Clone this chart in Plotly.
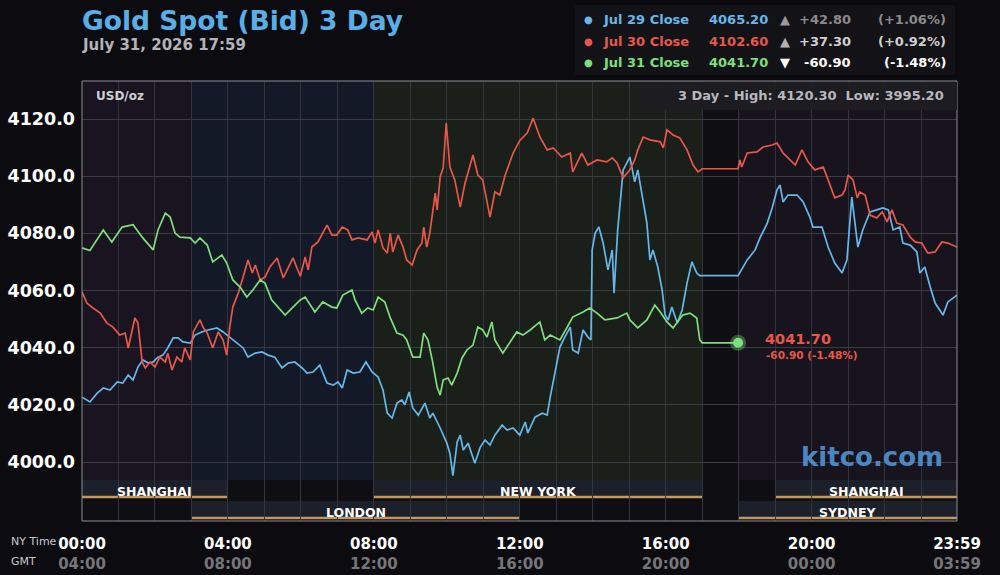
import plotly.graph_objects as go

# ---------------- data ----------------
blue_minute = [0, 13, 25, 35, 46, 58, 67, 76, 84, 92, 100, 109, 117, 125, 133, 141, 150, 158, 166, 178,
               186, 197, 207, 222, 232, 243, 255, 265, 273, 285, 296, 306, 317, 329, 339, 350, 362, 370, 380, 391,
               403, 413, 421, 428, 436, 446, 457, 467, 477, 487, 495, 502, 510, 518, 526, 531, 538, 544, 553, 564,
               572, 577, 589, 600, 605, 610, 617, 622, 627, 635, 646, 655, 663, 671, 679, 691, 699, 709, 720, 729,
               733, 745, 757, 765, 770, 778, 786, 794, 803, 807, 816, 824, 832, 837, 839, 844, 850, 857, 865, 872,
               875, 881, 890, 901, 909, 914, 923, 929, 934, 939, 947, 954, 959, 964, 970, 979, 987, 995, 1003, 1011,
               1016, 1079, 1094, 1107, 1115, 1127, 1135, 1143, 1148, 1153, 1161, 1176, 1186, 1197, 1202, 1217, 1227, 1238, 1250, 1258,
               1266, 1271, 1276, 1284, 1296, 1307, 1317, 1326, 1334, 1345, 1350, 1362, 1373, 1378, 1386, 1395, 1403, 1416, 1424, 1439]
blue_value = [4022.7, 4021.0, 4024.1, 4025.9, 4025.2, 4028.0, 4027.6, 4030.4, 4028.7, 4033.2, 4035.7, 4034.6, 4035.0, 4036.7, 4037.4, 4039.9, 4043.4, 4043.4, 4042.0, 4041.6,
              4044.4, 4045.5, 4046.2, 4046.9, 4045.5, 4043.7, 4041.6, 4039.9, 4036.7, 4038.1, 4038.5, 4037.4, 4036.7, 4032.9, 4034.6, 4035.0, 4032.9, 4031.1, 4031.5, 4033.9,
              4027.6, 4026.9, 4028.0, 4025.9, 4032.2, 4031.1, 4031.5, 4035.0, 4031.5, 4029.7, 4025.2, 4017.1, 4015.4, 4020.6, 4021.7, 4020.0, 4024.5, 4018.9, 4016.4, 4020.6,
              4015.4, 4017.1, 4011.9, 4006.6, 4003.1, 3995.2, 4007.0, 4009.4, 4004.2, 4006.6, 3999.6, 4005.2, 4007.7, 4005.9, 4009.4, 4012.9, 4011.2, 4011.9, 4009.4, 4014.0,
              4010.1, 4015.7, 4017.1, 4016.4, 4022.7, 4031.1, 4040.2, 4043.7, 4047.2, 4039.2, 4038.1, 4046.2, 4043.7, 4042.7, 4074.2, 4080.1, 4082.2, 4076.6, 4067.2, 4074.2,
              4059.1, 4081.2, 4102.2, 4106.7, 4098.0, 4102.2, 4090.6, 4083.6, 4070.7, 4074.2, 4068.2, 4060.2, 4051.4, 4049.7, 4054.2, 4048.6, 4053.2, 4062.6, 4070.0, 4066.1,
              4065.2, 4065.2, 4070.7, 4074.2, 4078.4, 4083.6, 4088.9, 4095.2, 4096.9, 4091.0, 4093.4, 4093.4, 4091.0, 4085.7, 4082.2, 4082.2, 4075.2, 4069.6, 4066.1, 4070.7,
              4092.7, 4084.7, 4075.2, 4081.2, 4087.5, 4088.2, 4088.9, 4088.2, 4081.2, 4082.2, 4076.6, 4075.9, 4073.5, 4066.1, 4068.2, 4061.2, 4055.6, 4051.4, 4056.0, 4058.4]

red_minute = [0, 8, 18, 30, 41, 51, 62, 71, 76, 82, 87, 92, 99, 104, 112, 120, 128, 137, 141, 148,
              156, 164, 169, 178, 183, 194, 199, 206, 215, 224, 232, 238, 243, 248, 257, 265, 273, 280, 285, 293,
              301, 309, 321, 331, 339, 347, 359, 367, 372, 378, 388, 396, 403, 411, 419, 428, 437, 444, 454, 469,
              477, 482, 487, 495, 502, 507, 511, 520, 528, 534, 543, 551, 559, 562, 567, 572, 577, 581, 584, 589,
              594, 599, 605, 613, 622, 630, 643, 651, 659, 671, 679, 687, 696, 709, 720, 732, 742, 753, 765, 775,
              789, 803, 807, 822, 832, 847, 863, 872, 880, 890, 901, 909, 914, 923, 934, 951, 956, 962, 972, 983,
              995, 1005, 1013, 1020, 1079, 1082, 1085, 1094, 1110, 1120, 1135, 1143, 1153, 1164, 1173, 1184, 1194, 1205, 1219, 1227,
              1238, 1250, 1255, 1260, 1268, 1275, 1279, 1288, 1296, 1307, 1316, 1324, 1332, 1340, 1350, 1362, 1370, 1381, 1391, 1403,
              1414, 1424, 1439]
red_value = [4059.5, 4055.6, 4053.9, 4052.1, 4048.6, 4047.2, 4044.4, 4045.1, 4039.9, 4045.1, 4050.4, 4048.6, 4035.0, 4032.9, 4035.0, 4033.2, 4036.7, 4035.0, 4038.1, 4032.2,
             4036.7, 4035.0, 4039.9, 4035.7, 4045.5, 4049.7, 4047.2, 4045.1, 4039.9, 4045.5, 4042.7, 4037.4, 4047.2, 4054.2, 4059.1, 4064.7, 4070.7, 4066.1, 4068.9, 4063.7,
             4064.7, 4068.2, 4071.4, 4064.4, 4067.9, 4071.4, 4065.0, 4071.7, 4067.2, 4075.2, 4077.0, 4080.1, 4082.9, 4079.4, 4079.4, 4082.2, 4081.2, 4077.7, 4078.4, 4077.7,
             4080.5, 4076.6, 4081.2, 4074.9, 4073.1, 4080.1, 4073.5, 4079.4, 4075.2, 4070.7, 4068.9, 4074.2, 4076.6, 4082.2, 4075.2, 4080.1, 4088.2, 4094.1, 4088.2, 4099.7,
             4102.9, 4118.6, 4103.2, 4098.7, 4089.2, 4097.6, 4107.4, 4100.4, 4098.7, 4085.7, 4094.5, 4093.4, 4100.4, 4108.1, 4112.5, 4115.1, 4120.3, 4113.7, 4109.2, 4109.9,
             4106.7, 4108.1, 4101.5, 4108.1, 4103.9, 4105.7, 4105.0, 4106.4, 4104.6, 4099.4, 4102.2, 4105.7, 4109.2, 4113.7, 4112.7, 4112.0, 4109.9, 4116.2, 4114.4, 4113.4,
             4109.2, 4103.9, 4101.5, 4102.6, 4102.6, 4105.7, 4103.2, 4108.1, 4108.5, 4110.2, 4110.9, 4111.6, 4108.1, 4105.7, 4103.9, 4109.2, 4105.0, 4102.2, 4103.2, 4098.7,
             4092.4, 4093.4, 4095.2, 4100.4, 4098.7, 4092.4, 4094.5, 4093.4, 4086.4, 4085.4, 4087.5, 4084.0, 4088.2, 4083.6, 4082.9, 4078.7, 4077.0, 4076.6, 4073.1, 4073.5,
             4077.0, 4076.6, 4075.2]

green_minute = [0, 13, 35, 49, 66, 84, 100, 117, 125, 137, 145, 153, 161, 178, 186, 194, 206, 215, 230, 238,
                248, 260, 271, 281, 293, 301, 312, 326, 334, 347, 359, 367, 383, 396, 411, 419, 429, 444, 449, 460,
                470, 479, 487, 498, 507, 518, 528, 534, 544, 556, 562, 569, 576, 584, 589, 594, 602, 608, 617, 625,
                633, 643, 651, 659, 666, 674, 679, 692, 704, 715, 725, 737, 753, 761, 770, 786, 798, 807, 824, 835,
                847, 860, 880, 896, 901, 914, 929, 942, 951, 962, 972, 988, 1000, 1011, 1016, 1020, 1079]
green_value = [4074.9, 4074.0, 4081.2, 4077.0, 4082.2, 4083.0, 4078.4, 4074.2, 4081.2, 4087.1, 4085.7, 4080.1, 4078.7, 4078.4, 4076.6, 4078.4, 4075.9, 4070.0, 4072.4, 4069.6,
               4063.7, 4061.2, 4057.7, 4060.2, 4063.7, 4062.6, 4056.7, 4053.2, 4051.4, 4054.2, 4056.7, 4057.7, 4052.5, 4056.0, 4054.2, 4053.9, 4058.4, 4060.2, 4056.7, 4052.1,
               4053.9, 4053.2, 4057.7, 4056.0, 4050.4, 4045.1, 4044.4, 4042.7, 4036.7, 4036.7, 4045.1, 4042.7, 4035.7, 4026.2, 4023.4, 4028.7, 4029.4, 4026.9, 4031.1, 4036.4,
               4039.2, 4040.9, 4047.2, 4046.2, 4043.7, 4049.0, 4042.7, 4038.1, 4042.0, 4045.5, 4044.4, 4046.2, 4049.0, 4042.7, 4044.4, 4042.7, 4047.2, 4050.7, 4052.5, 4053.9,
               4052.1, 4049.7, 4050.4, 4052.1, 4049.7, 4046.9, 4049.7, 4054.9, 4052.5, 4049.0, 4046.9, 4051.4, 4052.1, 4050.4, 4042.7, 4041.7, 4041.7]

series_names = ["Jul 29 Close", "Jul 30 Close", "Jul 31 Close"]
series_close = ["4065.20", "4102.60", "4041.70"]
series_change = ["+42.80", "+37.30", "-60.90"]
series_pct = ["(+1.06%)", "(+0.92%)", "(-1.48%)"]
series_arrow = ["▲", "▲", "▼"]

y_ticks = [4000, 4020, 4040, 4060, 4080, 4100, 4120]
x_tick_minutes = [0, 240, 480, 720, 960, 1200, 1439]
ny_labels = ["00:00", "04:00", "08:00", "12:00", "16:00", "20:00", "23:59"]
gmt_labels = ["04:00", "08:00", "12:00", "16:00", "20:00", "00:00", "03:59"]

# background tints by session (start hour, end hour)
tint_start = [0, 3, 8, 17, 18]
tint_end = [3, 8, 17, 18, 24]
tint_color = ["#19141f", "#131926", "#1a1f19", "#0f0f13", "#18141e"]

session_names = ["SHANGHAI", "LONDON", "NEW YORK", "SHANGHAI", "SYDNEY"]
session_start = [0, 3, 8, 19, 18]
session_end = [4, 12, 17, 24, 24]
session_row = [0, 1, 0, 0, 1]

high_low_text = "3 Day - High: 4120.30  Low: 3995.20"

# ---------------- styling ----------------
FONT = "DejaVu Sans"
BLUE = "#66b8ea"
RED = "#e8584a"
GREEN = "#7ee07c"
colors = [BLUE, RED, GREEN]
YMIN, YMAX = 3979.36, 4133.3
L, R, T, B = 82, 957, 81, 521


def px_x(px):
    return (px - L) / (R - L)


def px_y(py):
    return (B - py) / (B - T)


fig = go.Figure()

for xs, ys, c in [(blue_minute, blue_value, BLUE), (red_minute, red_value, RED), (green_minute, green_value, GREEN)]:
    fig.add_trace(go.Scatter(x=xs, y=ys, mode="lines", line=dict(color=c, width=1.7),
                             hoverinfo="skip", showlegend=False))

# end marker with glow
fig.add_trace(go.Scatter(x=[green_minute[-1]], y=[green_value[-1]], mode="markers",
                         marker=dict(size=16, color="rgba(126,224,124,0.35)"), hoverinfo="skip", showlegend=False))
fig.add_trace(go.Scatter(x=[green_minute[-1]], y=[green_value[-1]], mode="markers",
                         marker=dict(size=10, color=GREEN), hoverinfo="skip", showlegend=False))

shapes = []
# tints
for s, e, c in zip(tint_start, tint_end, tint_color):
    shapes.append(dict(type="rect", xref="x", yref="y", x0=s * 60, x1=min(e * 60, 1439), y0=3993.7, y1=YMAX,
                       fillcolor=c, line=dict(width=0), layer="below"))
# session bands (top, bottom, line) in value units
row_y = [(3993.7, 3988.1, 3987.75), (3986.35, 3980.75, 3980.4)]
for name, s, e, r in zip(session_names, session_start, session_end, session_row):
    y_top, y_bot, y_line = row_y[r]
    x0, x1 = s * 60, min(e * 60, 1439)
    shapes.append(dict(type="rect", xref="x", yref="y", x0=x0, x1=x1, y0=y_bot, y1=y_top,
                       fillcolor="#1b202b", line=dict(width=0), layer="below"))
    shapes.append(dict(type="line", xref="x", yref="y", x0=x0, x1=x1, y0=y_line, y1=y_line,
                       line=dict(color="#c4975c", width=2.5), layer="below"))
# plot border
shapes.append(dict(type="rect", xref="paper", yref="paper", x0=0, x1=1, y0=0, y1=1,
                   line=dict(color="#8c8c96", width=1), fillcolor="rgba(0,0,0,0)", layer="above"))
# legend box
shapes.append(dict(type="rect", xref="paper", yref="paper", x0=px_x(575), x1=px_x(955), y0=px_y(75), y1=px_y(5),
                   fillcolor="#131317", line=dict(width=0), layer="below"))
# high/low box
shapes.append(dict(type="rect", xref="paper", yref="paper", x0=px_x(641), x1=1, y0=px_y(110), y1=px_y(82),
                   fillcolor="#1c1c21", line=dict(width=0), layer="above"))
# end label box
shapes.append(dict(type="rect", xref="paper", yref="paper", x0=px_x(752), x1=px_x(862), y0=px_y(362), y1=px_y(330),
                   fillcolor="rgba(26,26,31,0.9)", line=dict(width=0), layer="below"))

ann = []
ann.append(dict(text="<b>Gold Spot (Bid) 3 Day</b>", x=px_x(80), y=px_y(21), xanchor="left", yanchor="middle",
                font=dict(size=26.5, color="#5aaee6", family=FONT)))
ann.append(dict(text="<b>July 31, 2026 17:59</b>", x=px_x(80), y=px_y(45), xanchor="left", yanchor="middle",
                font=dict(size=15, color="#b4b4b8", family=FONT)))
row_ys = [19, 41, 63]
chg_colors = ["#8a8a8e", "#cfcfd2", "#ffffff"]
arr_colors = ["#9a9a9e", "#b0b0b4", "#ffffff"]
for i in range(3):
    yy = px_y(row_ys[i])
    ann.append(dict(text="●", x=px_x(588), y=yy, xanchor="center", yanchor="middle",
                    font=dict(size=10, color=colors[i], family=FONT)))
    ann.append(dict(text=f"<b>{series_names[i]}</b>", x=px_x(601), y=yy, xanchor="left", yanchor="middle",
                    font=dict(size=13, color=colors[i], family=FONT)))
    ann.append(dict(text=f"<b>{series_close[i]}</b>", x=px_x(707), y=yy, xanchor="left", yanchor="middle",
                    font=dict(size=13, color=colors[i], family=FONT)))
    ann.append(dict(text=series_arrow[i], x=px_x(785), y=yy, xanchor="center", yanchor="middle",
                    font=dict(size=13, color=arr_colors[i], family=FONT)))
    ann.append(dict(text=f"<b>{series_change[i]}</b>", x=px_x(853), y=yy, xanchor="right", yanchor="middle",
                    font=dict(size=13, color=chg_colors[i], family=FONT)))
    ann.append(dict(text=f"<b>{series_pct[i]}</b>", x=px_x(948), y=yy, xanchor="right", yanchor="middle",
                    font=dict(size=13, color=chg_colors[i], family=FONT)))
ann.append(dict(text=f"<b>{high_low_text}</b>", x=px_x(946), y=px_y(96), xanchor="right", yanchor="middle",
                font=dict(size=13, color="#b8b8be", family=FONT)))
ann.append(dict(text="<b>USD/oz</b>", x=px_x(94), y=px_y(96), xanchor="left", yanchor="middle",
                font=dict(size=12, color="#d0d0d4", family=FONT)))
ann.append(dict(text="<b>kitco.com</b>", x=px_x(945), y=px_y(457), xanchor="right", yanchor="middle",
                font=dict(size=26, color="rgba(82,150,220,0.9)", family=FONT)))
ann.append(dict(text=f"<b>{series_close[2]}</b>", x=px_x(763), y=px_y(339), xanchor="left", yanchor="middle",
                font=dict(size=14.5, color=RED, family=FONT)))
ann.append(dict(text=f"<b>{series_change[2]} {series_pct[2]}</b>", x=px_x(764), y=px_y(355), xanchor="left",
                yanchor="middle", font=dict(size=10.5, color=RED, family=FONT)))
label_y = [491, 512]
for name, s, e, r in zip(session_names, session_start, session_end, session_row):
    ann.append(dict(text=f"<b>{name}</b>", xref="x", x=(s * 60 + min(e * 60, 1439)) / 2, y=px_y(label_y[r]),
                    xanchor="center", yanchor="middle", font=dict(size=12.5, color="#ffffff", family=FONT)))
ann.append(dict(text="NY Time", x=px_x(9), y=px_y(541), xanchor="left", yanchor="middle",
                font=dict(size=11, color="#c8c8cc", family=FONT)))
ann.append(dict(text="GMT", x=px_x(9), y=px_y(561), xanchor="left", yanchor="middle",
                font=dict(size=11, color="#c8c8cc", family=FONT)))
for a in ann:
    a.setdefault("xref", "paper")
    a["yref"] = "paper"
    a["showarrow"] = False

tick_text = [f"<b>{n}</b><br><span style='color:#76767a'><b>{g}</b></span>" for n, g in zip(ny_labels, gmt_labels)]

fig.update_layout(
    width=1000, height=575,
    margin=dict(l=L, r=1000 - R, t=T, b=575 - B, autoexpand=False),
    paper_bgcolor="#0c0c10", plot_bgcolor="#0f0f13",
    shapes=shapes, annotations=ann, showlegend=False,
    font=dict(family=FONT, color="#ffffff"),
    xaxis=dict(range=[0, 1439], tickmode="array", tickvals=x_tick_minutes, ticktext=tick_text, automargin=False,
               showgrid=False, zeroline=False, showline=False, ticks="", ticklabelstandoff=12,
               tickfont=dict(size=15, color="#ffffff", family=FONT),
               minor=dict(tickmode="linear", tick0=0, dtick=60, showgrid=True, gridcolor="#33353d", gridwidth=1)),
    yaxis=dict(range=[YMIN, YMAX], tickmode="array", tickvals=y_ticks, ticktext=[f"<b>{v:.1f}</b>" for v in y_ticks],
               automargin=False,
               showgrid=True, gridcolor="#3a3c44", gridwidth=1, zeroline=False, showline=False, ticks="",
               ticklabelstandoff=6, tickfont=dict(size=17.5, color="#ffffff", family=FONT)),
)

fig.write_html("out.html", config={"displayModeBar": False, "staticPlot": True},
               post_script="document.body.style.margin='0';document.body.style.background='#0c0c10';")
